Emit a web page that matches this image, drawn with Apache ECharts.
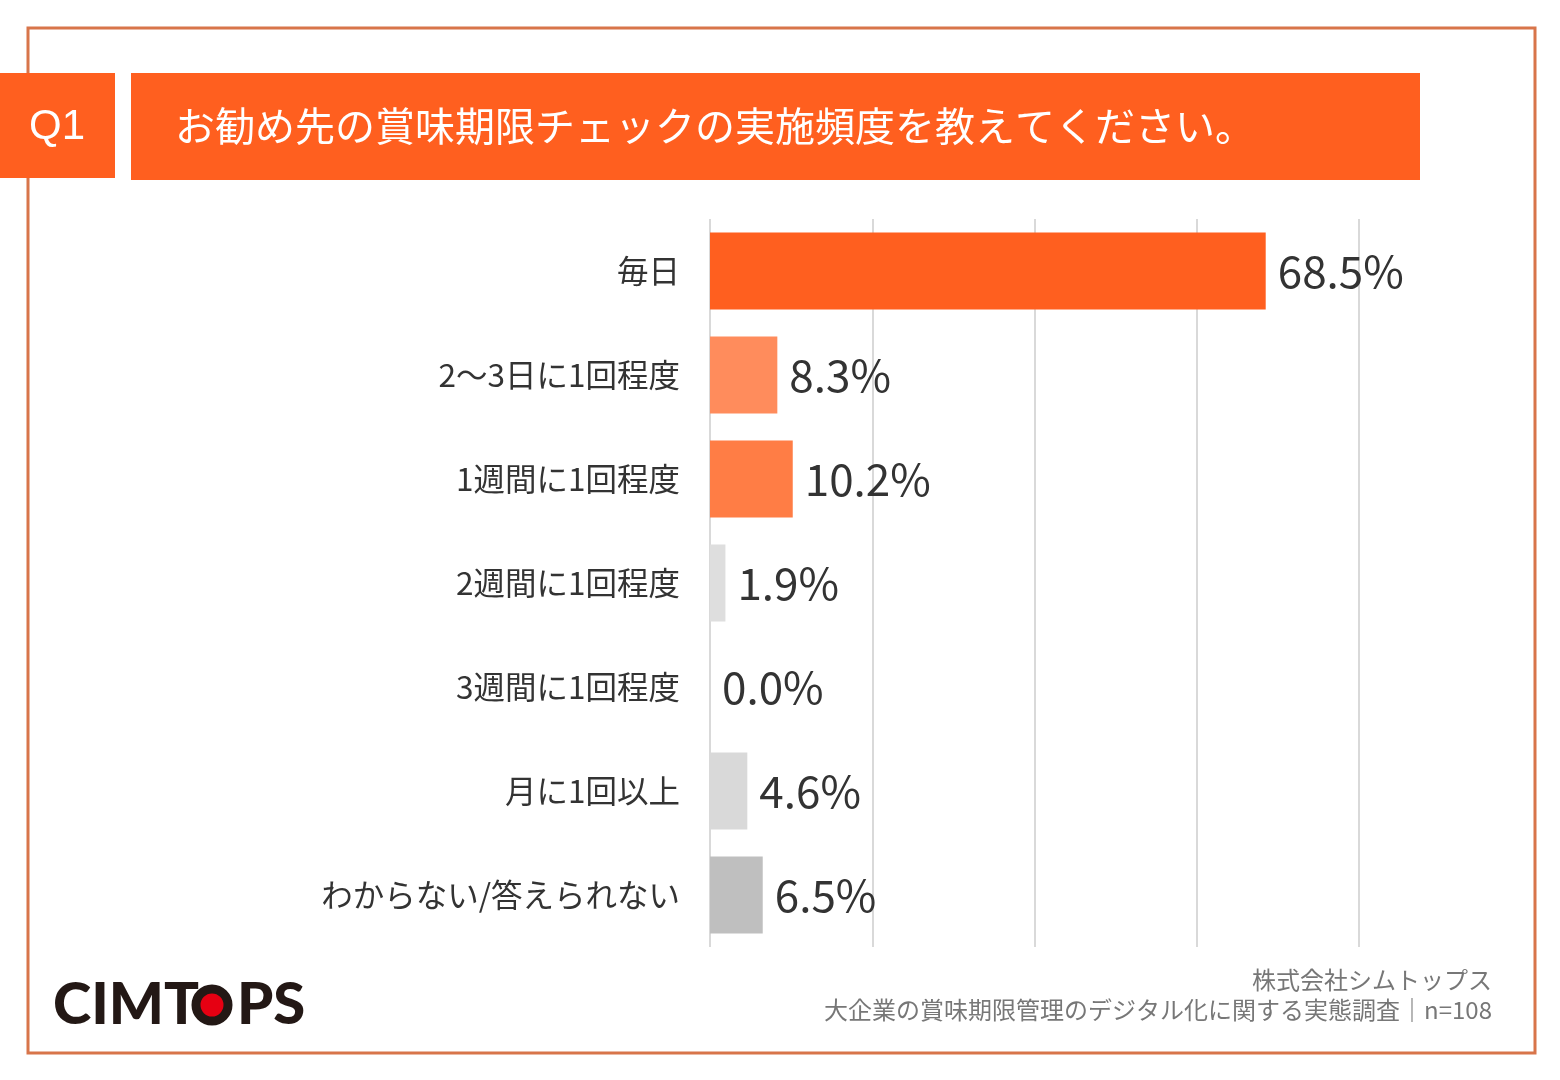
<!DOCTYPE html>
<html><head><meta charset="utf-8">
<script src="https://cdn.jsdelivr.net/npm/echarts@6/dist/echarts.min.js"></script>
<style>html,body{margin:0;padding:0;background:#fff}#c{width:1560px;height:1080px}</style>
</head><body><div id="c"></div>
<script>
const categories = ['毎日','2〜3日に1回程度','1週間に1回程度','2週間に1回程度','3週間に1回程度','月に1回以上','わからない/答えられない'];
const values = [68.5, 8.3, 10.2, 1.9, 0.0, 4.6, 6.5];
const barColors = ['#FF5F1F','#FF8C5C','#FF7D45','#DEDEDE','#DEDEDE','#D9D9D9','#BFBFBF'];
const questionNo = 'Q1';
const titleText = 'お勧め先の賞味期限チェックの実施頻度を教えてください。';
const footer1 = '株式会社シムトップス';
const footer2 = '大企業の賞味期限管理のデジタル化に関する実態調査｜n=108';
const JP = '"Noto Sans CJK JP", "Noto Sans", sans-serif';

const chart = echarts.init(document.getElementById('c'));
chart.setOption({
  backgroundColor: '#fff',
  animation: false,
  grid: { left: 710, right: 201, top: 219, bottom: 133, containLabel: false },
  xAxis: {
    type: 'value', min: 0, max: 80, interval: 20,
    axisLabel: { show: false }, axisLine: { show: false }, axisTick: { show: false },
    splitLine: { show: true, lineStyle: { color: '#D9D9D9', width: 2 } }
  },
  yAxis: {
    type: 'category', inverse: true, data: categories,
    axisLine: { show: false }, axisTick: { show: false },
    axisLabel: { margin: 30, fontSize: 31.5, color: '#333', fontFamily: JP }
  },
  series: [{
    type: 'bar', barWidth: 77,
    data: values.map((v, i) => ({ value: v, itemStyle: { color: barColors[i] } })),
    label: {
      show: true, position: 'right', distance: 12,
      formatter: p => p.value.toFixed(1) + '%',
      fontSize: 44, color: '#333', fontFamily: JP
    }
  }],
  graphic: [
    { type: 'rect', shape: { x: 28, y: 28, width: 1507, height: 1025 }, style: { fill: 'none', stroke: '#D8754A', lineWidth: 3 }, z: 1 },
    { type: 'rect', shape: { x: 0, y: 73, width: 115, height: 105 }, style: { fill: '#FF5F1F' }, z: 2 },
    { type: 'rect', shape: { x: 131, y: 73, width: 1289, height: 107 }, style: { fill: '#FF5F1F' }, z: 2 },
    { type: 'text', x: 57, y: 127, z: 3, style: { text: questionNo, fill: '#fff', fontSize: 42, fontFamily: '"Liberation Sans", Arial, sans-serif', align: 'center', verticalAlign: 'middle' } },
    { type: 'text', x: 175, y: 126, z: 3, style: { text: titleText, fill: '#fff', fontSize: 40, fontFamily: JP, align: 'left', verticalAlign: 'middle' } },
    { type: 'text', x: 1492, y: 980, z: 3, style: { text: footer1, fill: '#777', fontSize: 24, fontFamily: JP, align: 'right', verticalAlign: 'middle' } },
    { type: 'text', x: 1492, y: 1010, z: 3, style: { text: footer2, fill: '#777', fontSize: 24, fontFamily: JP, align: 'right', verticalAlign: 'middle' } },
    { type: 'text', x: 53, y: 1005, z: 3, style: { text: 'CIMT', fill: '#231815', fontSize: 58, fontWeight: 900, fontFamily: 'Lato, sans-serif', align: 'left', verticalAlign: 'middle' } },
    { type: 'circle', shape: { cx: 212, cy: 1005, r: 16 }, style: { fill: '#E60012', stroke: '#231815', lineWidth: 9 }, z: 3 },
    { type: 'text', x: 237, y: 1005, z: 3, style: { text: 'PS', fill: '#231815', fontSize: 58, fontWeight: 900, fontFamily: 'Lato, sans-serif', align: 'left', verticalAlign: 'middle' } }
  ]
});
</script></body></html>
